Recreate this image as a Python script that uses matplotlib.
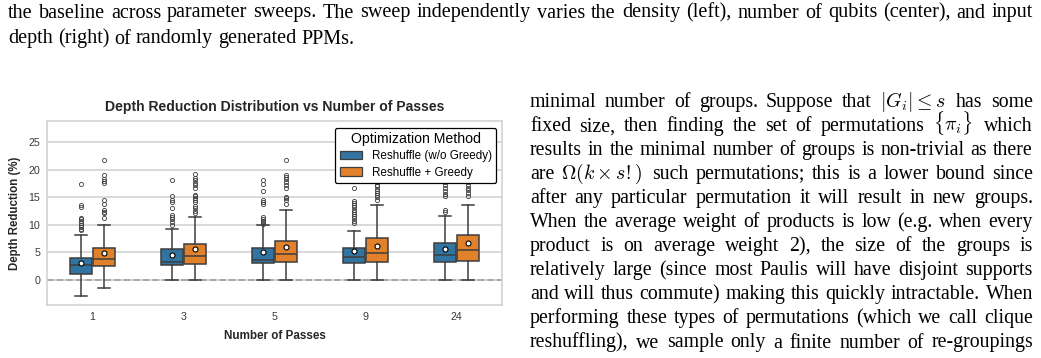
import re
import matplotlib
matplotlib.use("Agg")
import matplotlib.pyplot as plt
from matplotlib.patches import Patch

plt.rcParams['mathtext.fontset'] = 'cm'

# ---------------- data ----------------
passes = ["1", "3", "5", "9", "24"]
methods = ["Reshuffle (w/o Greedy)", "Reshuffle + Greedy"]
colors = ["#3274a1", "#e1812c"]

# per pass: [w/o greedy, + greedy]
q1 = [[1.0, 2.5], [2.8, 2.9], [3.0, 3.2], [3.0, 3.3], [3.3, 3.5]]
med = [[2.7, 3.9], [3.3, 4.4], [3.7, 4.8], [4.2, 4.9], [4.6, 5.5]]
q3 = [[4.0, 5.8], [5.6, 6.6], [5.9, 7.1], [5.9, 7.7], [6.7, 8.1]]
whislo = [[-3.0, -1.4], [0.0, 0.0], [0.0, 0.0], [0.0, 0.0], [0.0, 0.0]]
whishi = [[8.2, 10.0], [9.2, 11.4], [10.0, 12.8], [8.9, 13.6], [11.6, 13.6]]
means = [[3.15, 4.85], [4.55, 5.6], [5.0, 5.95], [5.25, 6.15], [5.7, 6.75]]
fliers = [
    [[17.4, 13.7, 13.2, 11.2, 11.0, 10.7, 10.4, 10.0, 9.6, 9.3, 9.0],
     [21.8, 19.1, 18.3, 18.0, 17.6, 14.6, 13.8, 12.7, 12.3, 12.2, 11.2]],
    [[18.2, 15.3, 14.6, 14.2, 13.0, 11.9, 11.5, 11.0, 10.5, 10.0],
     [19.2, 18.6, 18.2, 17.7, 17.2, 16.7, 15.5, 15.2, 14.9, 14.5, 14.2, 13.5, 13.0, 12.6, 12.1]],
    [[18.2, 17.5, 16.2, 14.6, 14.2, 13.8, 11.4, 11.1, 10.8, 10.5, 10.2],
     [21.8, 19.0, 18.7, 18.3, 17.8, 17.3, 16.7, 15.1, 14.9, 14.5, 13.9]],
    [[16.7, 14.4, 14.0, 13.6, 13.2, 12.8, 12.4, 12.0, 11.6, 11.2, 10.8, 10.4],
     [17.8, 17.3, 17.0, 16.6, 16.2, 15.8, 15.4, 15.0, 14.6]],
    [[17.8, 17.3, 16.7, 16.2, 15.7, 15.2, 12.7, 12.3],
     [17.8, 17.3, 16.8, 16.3, 15.8, 15.3]],
]

caption_lines = [
    "the baseline across parameter sweeps. The sweep independently varies the density (left), number of qubits (center), and input",
    "depth (right) of randomly generated PPMs.",
]
body_lines = [
    r"minimal number of groups. Suppose that $|G_i| \leq s$ has some",
    r"fixed size, then finding the set of permutations $\{\pi_i\}$ which",
    r"results in the minimal number of groups is non-trivial as there",
    r"are $\Omega(k \times s!)$ such permutations; this is a lower bound since",
    r"after any particular permutation it will result in new groups.",
    r"When the average weight of products is low (e.g. when every",
    r"product is on average weight 2), the size of the groups is",
    r"relatively large (since most Paulis will have disjoint supports",
    r"and will thus commute) making this quickly intractable. When",
    r"performing these types of permutations (which we call clique",
    r"reshuffling), we sample only a finite number of re-groupings",
]

# ---------------- figure ----------------
W, H = 1041, 358
fig = plt.figure(figsize=(W / 100, H / 100), dpi=100)
fig.patch.set_facecolor("white")

sans = ["Liberation Sans", "DejaVu Sans"]
ax = fig.add_axes([47 / W, 1 - 305 / H, 455 / W, 184 / H])
ax.set_facecolor("white")

grid_c = "#d0d0d0"
line_c = "#3d3d3d"
ax.set_axisbelow(True)
ax.yaxis.grid(True, color=grid_c, lw=1.1)
ax.xaxis.grid(False)
for s in ax.spines.values():
    s.set_color(grid_c)
    s.set_linewidth(1.1)

ax.axhline(0, color="#9a9a9a", ls="--", lw=1.3, alpha=0.85, zorder=1.5)

width = 0.25
for i in range(len(passes)):
    for j in range(2):
        st = dict(med=med[i][j], q1=q1[i][j], q3=q3[i][j],
                  whislo=whislo[i][j], whishi=whishi[i][j],
                  mean=means[i][j], fliers=fliers[i][j])
        pos = i + (j - 0.5) * width
        ax.bxp([st], positions=[pos], widths=[width * 0.97], patch_artist=True,
               showmeans=True, showcaps=True,
               boxprops=dict(facecolor=colors[j], edgecolor=line_c, lw=1.1),
               medianprops=dict(color=line_c, lw=1.1),
               whiskerprops=dict(color=line_c, lw=1.1),
               capprops=dict(color=line_c, lw=1.1),
               capwidths=[width * 0.5],
               flierprops=dict(marker="o", markersize=3, markerfacecolor="none",
                               markeredgecolor=line_c, markeredgewidth=0.6),
               meanprops=dict(marker="o", markersize=3.6, markerfacecolor="white",
                              markeredgecolor="black", markeredgewidth=0.8),
               manage_ticks=False, zorder=3)

ax.set_xlim(-0.5, len(passes) - 0.5)
ax.set_ylim(-4.55, 28.9)
ax.set_xticks(range(len(passes)))
ax.set_xticklabels(passes)
ax.set_yticks([0, 5, 10, 15, 20, 25])
ax.tick_params(axis="both", length=0, labelsize=7.7, labelcolor="#3a3a3a", pad=5)
for lab in ax.get_xticklabels() + ax.get_yticklabels():
    lab.set_family(sans)
ax.set_xlabel("Number of Passes", fontsize=8.4, fontweight="bold", family=sans,
              color="#262626", labelpad=6)
ax.set_ylabel("Depth Reduction (%)", fontsize=8.3, fontweight="bold", family=sans,
              color="#262626", labelpad=5)
ax.set_title("Depth Reduction Distribution vs Number of Passes", fontsize=10.1,
             fontweight="bold", family=sans, color="#262626", pad=7)

handles = [Patch(facecolor=c, edgecolor=line_c, lw=0.9) for c in colors]
leg = ax.legend(handles, methods, title="Optimization Method", loc="upper right",
                bbox_to_anchor=(0.992, 0.975), title_fontsize=10.2,
                prop=dict(family=sans, size=8.4), frameon=True, fancybox=True,
                framealpha=1.0, edgecolor="black", borderpad=0.38,
                handlelength=1.95, handleheight=0.7, labelspacing=0.35,
                handletextpad=0.8, borderaxespad=0.2)
leg.get_title().set_family(sans)
leg.get_frame().set_linewidth(0.9)
leg.set_zorder(10)

# ---------------- surrounding text ----------------
fig.canvas.draw()
renderer = fig.canvas.get_renderer()
serif = "Liberation Serif"
tok_re = re.compile(r"\S*\$[^$]*\$\S*|\S+")


def measure(s, size):
    t = fig.text(0, 0, s, fontsize=size, family=serif)
    w = t.get_window_extent(renderer).width
    t.remove()
    return w


def draw_line(text, x0, x1, ybase, size, justify=True):
    words = tok_re.findall(text)
    # small extra room after math tokens so neighbours never touch
    widths = [measure(w, size) + (3.0 if "$" in w else 0.0) for w in words]
    space = measure("a a", size) - 2 * measure("a", size)
    if justify and len(words) > 1:
        gap = (x1 - x0 - sum(widths)) / (len(words) - 1)
    else:
        gap = space
    x = x0
    for w, wdt in zip(words, widths):
        fig.text(x / W, 1 - ybase / H, w, fontsize=size, family=serif,
                 va="baseline", ha="left", color="black")
        x += wdt + gap


cap_size = 14.5
body_size = 14.3
draw_line(caption_lines[0], 8, 1033, 17.5, cap_size, True)
draw_line(caption_lines[1], 8, 1033, 43.5, cap_size, False)
for k, line in enumerate(body_lines):
    draw_line(line, 530, 1033, 107 + k * 24.05, body_size, True)

fig.savefig("out.png", dpi=100, facecolor="white")
